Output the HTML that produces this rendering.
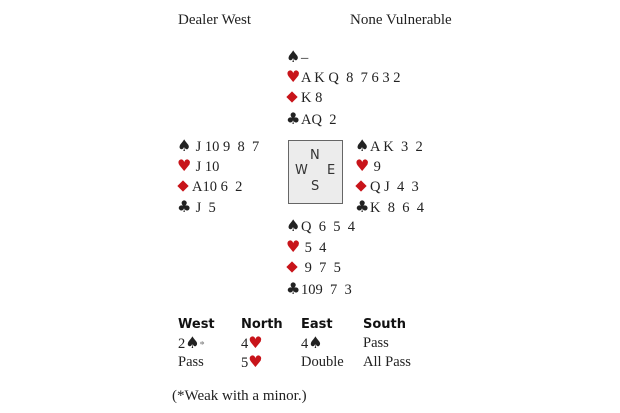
<!DOCTYPE html>
<html><head><meta charset="utf-8"><style>
html,body{margin:0;padding:0;background:#fff;}
body{width:620px;height:413px;position:relative;overflow:hidden;font-family:"Liberation Serif",serif;color:#222;}
.t{position:absolute;white-space:pre;font-size:14.5px;line-height:16px;}
.s{display:inline-block;width:15px;font-family:"DejaVu Sans",sans-serif;font-size:16px;}
.r{color:#c8141a;}
.d{display:inline-block;width:15px;position:relative;height:10px;}
.d:before{content:"";position:absolute;left:2px;top:1px;width:8px;height:8px;background:#c8141a;transform:rotate(45deg);}
.b{position:absolute;font-family:"DejaVu Sans","Liberation Sans",sans-serif;font-weight:bold;font-size:13px;line-height:16px;color:#111;}
.box{position:absolute;left:288px;top:140px;width:53px;height:62px;background:#ececec;border:1.5px solid #666;}
.c{position:absolute;font-family:"DejaVu Sans",sans-serif;font-size:13px;color:#333;line-height:14px;}
.x{font-family:"DejaVu Sans",sans-serif;font-size:16px;}
</style></head><body>
<div class="t" style="left:178px;top:12px;font-size:15px;">Dealer West</div>
<div class="t" style="left:350px;top:12px;font-size:15px;">None Vulnerable</div>

<div class="t" style="left:286px;top:49px;"><span class="s">♠</span>–</div>
<div class="t" style="left:286px;top:69px;"><span class="s r">♥</span>A K Q  8  7 6 3 2</div>
<div class="t" style="left:286px;top:90px;"><span class="d"></span>K 8</div>
<div class="t" style="left:286px;top:111px;"><span class="s">♣</span>AQ  2</div>

<div class="t" style="left:177px;top:138px;"><span class="s">♠</span> J 10 9  8  7</div>
<div class="t" style="left:177px;top:158px;"><span class="s r">♥</span> J 10</div>
<div class="t" style="left:177px;top:179px;"><span class="d"></span>A10 6  2</div>
<div class="t" style="left:177px;top:199px;"><span class="s">♣</span> J  5</div>

<div class="box"></div>
<div class="c" style="left:310px;top:149px;">N</div>
<div class="c" style="left:295px;top:164px;">W</div>
<div class="c" style="left:327px;top:164px;">E</div>
<div class="c" style="left:311px;top:180px;">S</div>

<div class="t" style="left:355px;top:138px;"><span class="s">♠</span>A K  3  2</div>
<div class="t" style="left:355px;top:158px;"><span class="s r">♥</span> 9</div>
<div class="t" style="left:355px;top:179px;"><span class="d"></span>Q J  4  3</div>
<div class="t" style="left:355px;top:199px;"><span class="s">♣</span>K  8  6  4</div>

<div class="t" style="left:286px;top:218px;"><span class="s">♠</span>Q  6  5  4</div>
<div class="t" style="left:286px;top:239px;"><span class="s r">♥</span> 5  4</div>
<div class="t" style="left:286px;top:260px;"><span class="d"></span> 9  7  5</div>
<div class="t" style="left:286px;top:281px;"><span class="s">♣</span>109  7  3</div>

<div class="b" style="left:178px;top:317px;">West</div>
<div class="b" style="left:241px;top:317px;">North</div>
<div class="b" style="left:301px;top:317px;">East</div>
<div class="b" style="left:363px;top:317px;">South</div>

<div class="t" style="left:178px;top:335px;">2<span class="x">♠</span><span style="font-size:10px;color:#777;">*</span></div>
<div class="t" style="left:241px;top:335px;">4<span class="x r">♥</span></div>
<div class="t" style="left:301px;top:335px;">4<span class="x">♠</span></div>
<div class="t" style="left:363px;top:335px;">Pass</div>

<div class="t" style="left:178px;top:354px;">Pass</div>
<div class="t" style="left:241px;top:354px;">5<span class="x r">♥</span></div>
<div class="t" style="left:301px;top:354px;">Double</div>
<div class="t" style="left:363px;top:354px;">All Pass</div>

<div class="t" style="left:172px;top:388px;font-size:15px;">(*Weak with a minor.)</div>
</body></html>
